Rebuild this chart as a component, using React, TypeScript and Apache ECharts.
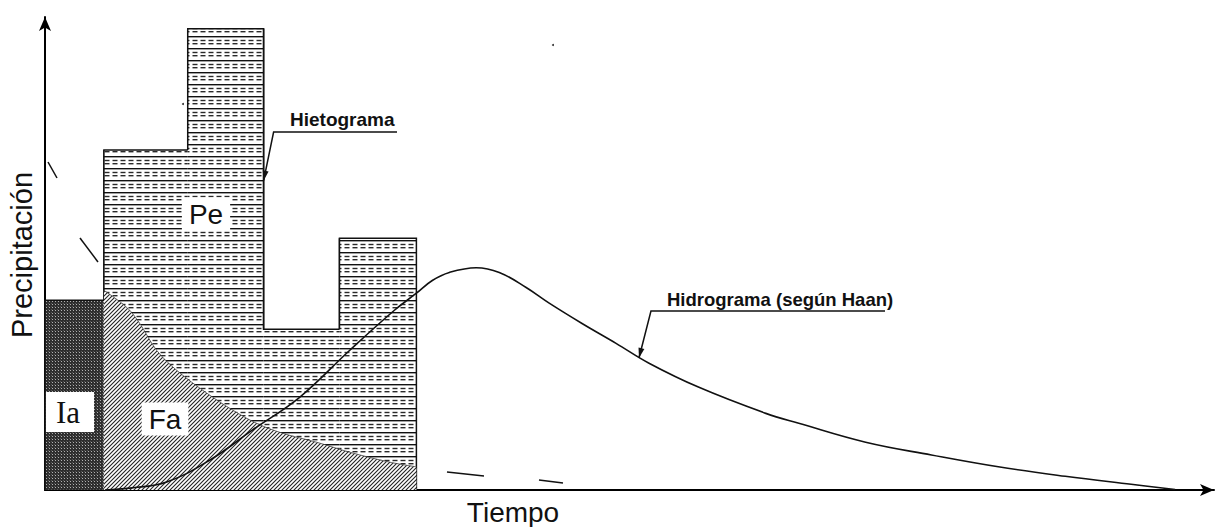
import React, { useEffect, useRef } from "react";
import * as echarts from "echarts";

// ---- Data (time units on x, precipitation/flow units on y) ----
const binEdges = [0, 5.04, 12.21, 18.7, 25.19, 31.77];
const binNames = ["Ia", "P1", "P2", "P3", "P4"];
const rainDepth = [40.1, 71.9, 97.5, 34.0, 53.2];

// Infiltration (Fa) curve
const lossX = [5.04, 7.0, 8.11, 9.56, 11.27, 13.83, 16.05, 18.1, 20.32, 23.23, 26.05, 29.46, 31.77];
const lossY = [42.2, 38.6, 35.2, 29.5, 25.3, 20.5, 16.9, 14.1, 12.0, 10.1, 8.0, 5.9, 4.9];

// Hydrograph (Haan)
const hydroX = [5.12, 7.26, 10.42, 14.09, 17.76, 21.78, 26.05, 29.89, 31.77, 33.13, 34.59, 36.89, 38.86, 41.16, 43.13, 45.94, 48.85, 51.67, 55.94, 61.66, 64.48, 70.2, 75.83, 81.55, 87.28, 92.91, 96.67];
const hydroY = [0, 0.4, 1.7, 6.3, 12.7, 19.6, 29.5, 38.0, 41.6, 44.3, 46.0, 47.0, 46.0, 42.8, 39.5, 35.2, 31.0, 26.8, 21.7, 16.2, 14.1, 10.1, 7.4, 4.9, 2.9, 1.2, 0.1];

const hietoAnchor = [18.7, 65.4];
const hidroAnchor = [50.81, 27.9];

const FONT = "Liberation Sans, Arial, Helvetica, sans-serif";
const SERIF = "Liberation Serif, Times New Roman, serif";

function tile(w: number, h: number, body: string) {
  const svg = `<svg xmlns="http://www.w3.org/2000/svg" width="${w}" height="${h}">${body}</svg>`;
  return {
    image: "data:image/svg+xml;charset=utf-8," + encodeURIComponent(svg),
    repeat: "repeat",
    imageWidth: w,
    imageHeight: h,
  } as any;
}

const pePattern = tile(
  8,
  12,
  `<rect width="8" height="12" fill="#fff"/><rect y="0" width="8" height="1.4" fill="#111"/><rect x="0.5" y="3.8" width="5" height="1.4" fill="#2a2a2a"/><rect x="0.5" y="7" width="5" height="1.4" fill="#2a2a2a"/>`
);
const faPattern = tile(
  4,
  4,
  `<rect width="4" height="4" fill="#fff"/><path d="M-1,1 L1,-1 M0,4 L4,0 M3,5 L5,3" stroke="#222" stroke-width="1.1"/>`
);
const iaPattern = tile(
  3,
  3,
  `<rect width="3" height="3" fill="#2e2e2e"/><rect x="1" y="1" width="1" height="1" fill="#b0b0b0"/><rect x="0" y="0" width="1" height="1" fill="#555"/>`
);

function arrowHead(from: number[], to: number[], len = 10, half = 3) {
  const dx = to[0] - from[0];
  const dy = to[1] - from[1];
  const d = Math.sqrt(dx * dx + dy * dy) || 1;
  const ux = dx / d;
  const uy = dy / d;
  const bx = to[0] - ux * len;
  const by = to[1] - uy * len;
  return [
    [to[0], to[1]],
    [bx - uy * half, by + ux * half],
    [bx + uy * half, by - ux * half],
  ];
}

export default function App() {
  const ref = useRef<HTMLDivElement>(null);

  useEffect(() => {
    if (!ref.current) return;
    const chart = echarts.init(ref.current, undefined, { renderer: "svg" });

    const axisLine = {
      show: true,
      onZero: false,
      symbol: ["none", "arrow"],
      symbolSize: [9, 14],
      lineStyle: { color: "#000", width: 2 },
    };

    chart.setOption({
      animation: false,
      backgroundColor: "#fff",
      grid: { left: 45, right: 8, top: 17, bottom: 37 },
      xAxis: {
        type: "value",
        min: 0,
        max: 100,
        axisLine,
        axisTick: { show: false },
        axisLabel: { show: false },
        splitLine: { show: false },
      },
      yAxis: {
        type: "value",
        min: 0,
        max: 100,
        axisLine,
        axisTick: { show: false },
        axisLabel: { show: false },
        splitLine: { show: false },
      },
      series: [
        {
          type: "custom",
          name: "Hietograma",
          z: 1,
          data: rainDepth.map((h, i) => ({ name: binNames[i], value: [binEdges[i], binEdges[i + 1], h] })),
          encode: { x: [0, 1], y: 2 },
          renderItem: (params: any, api: any) => {
            const i = params.dataIndex;
            const x0 = api.value(0);
            const x1 = api.value(1);
            const h = api.value(2);
            const prevH = i > 0 ? rainDepth[i - 1] : 0;
            const nextH = i < rainDepth.length - 1 ? rainDepth[i + 1] : 0;
            const p0 = api.coord([x0, 0]);
            const p1 = api.coord([x1, h]);
            return {
              type: "group",
              children: [
                {
                  type: "rect",
                  shape: { x: p0[0], y: p1[1], width: p1[0] - p0[0], height: p0[1] - p1[1] },
                  style: { fill: i === 0 ? iaPattern : pePattern },
                },
                {
                  type: "polyline",
                  shape: {
                    points: [api.coord([x0, prevH]), api.coord([x0, h]), api.coord([x1, h]), api.coord([x1, nextH])],
                  },
                  style: { stroke: "#111", lineWidth: 1.5, fill: null },
                },
              ],
            };
          },
        },
        {
          type: "line",
          name: "Fa",
          z: 2,
          data: lossX.map((x, i) => [x, lossY[i]]),
          smooth: 0.35,
          showSymbol: false,
          lineStyle: { color: "#444", width: 0.8 },
          areaStyle: { color: faPattern, opacity: 1, origin: "start" },
        },
        {
          type: "line",
          name: "Hidrograma",
          z: 3,
          data: hydroX.map((x, i) => [x, hydroY[i]]),
          smooth: 0.4,
          showSymbol: false,
          lineStyle: { color: "#111", width: 1.6 },
        },
      ],
    });

    const hA = chart.convertToPixel({ gridIndex: 0 }, hietoAnchor) as number[];
    const dA = chart.convertToPixel({ gridIndex: 0 }, hidroAnchor) as number[];
    const hCorner = [hA[0] + 10, 132];
    const dCorner = [dA[0] + 12, 311];

    const boxText = (text: string, x: number, y: number, font: string, padding: number[]) => ({
      type: "text",
      x,
      y,
      z: 10,
      style: {
        text,
        font,
        fill: "#111",
        align: "center",
        verticalAlign: "middle",
        backgroundColor: "#fff",
        padding,
      },
    });

    const stray = [
      [[48, 162], [57, 178]],
      [[80, 238], [98, 262]],
      [[447, 472], [484, 476]],
      [[539, 480], [563, 483]],
    ];

    chart.setOption({
      graphic: [
        {
          type: "text",
          x: 22,
          y: 255,
          rotation: Math.PI / 2,
          style: { text: "Precipitación", font: `29px ${FONT}`, fill: "#111", align: "center", verticalAlign: "middle" },
        },
        {
          type: "text",
          x: 513,
          y: 512,
          style: { text: "Tiempo", font: `28px ${FONT}`, fill: "#111", align: "center", verticalAlign: "middle" },
        },
        boxText("Pe", 206, 214, `28px ${FONT}`, [3, 7, 2, 7]),
        boxText("Fa", 165, 419, `28px ${FONT}`, [3, 7, 2, 7]),
        boxText("Ia", 70, 412, `31px ${SERIF}`, [5, 14, 4, 10]),
        {
          type: "text",
          x: 290,
          y: 119,
          z: 10,
          style: { text: "Hietograma", font: `bold 19px ${FONT}`, fill: "#111", align: "left", verticalAlign: "middle" },
        },
        {
          type: "polyline",
          z: 10,
          shape: { points: [[397, 132], hCorner, hA] },
          style: { stroke: "#111", lineWidth: 1.5, fill: null },
        },
        {
          type: "polygon",
          z: 10,
          shape: { points: arrowHead(hCorner, hA) },
          style: { fill: "#111" },
        },
        {
          type: "text",
          x: 667,
          y: 299,
          z: 10,
          style: {
            text: "Hidrograma (según Haan)",
            font: `bold 18.5px ${FONT}`,
            fill: "#111",
            align: "left",
            verticalAlign: "middle",
          },
        },
        {
          type: "polyline",
          z: 10,
          shape: { points: [[885, 311], dCorner, dA] },
          style: { stroke: "#111", lineWidth: 1.5, fill: null },
        },
        {
          type: "polygon",
          z: 10,
          shape: { points: arrowHead(dCorner, dA) },
          style: { fill: "#111" },
        },
        ...stray.map((s) => ({
          type: "line",
          z: 10,
          shape: { x1: s[0][0], y1: s[0][1], x2: s[1][0], y2: s[1][1] },
          style: { stroke: "#111", lineWidth: 1.5 },
        })),
        { type: "circle", shape: { cx: 183, cy: 104, r: 1 }, style: { fill: "#333" } },
        { type: "circle", shape: { cx: 553, cy: 45, r: 1 }, style: { fill: "#333" } },
      ],
    });

    return () => chart.dispose();
  }, []);

  return <div ref={ref} style={{ position: "fixed", left: 0, top: 0, width: 1222, height: 527 }} />;
}
